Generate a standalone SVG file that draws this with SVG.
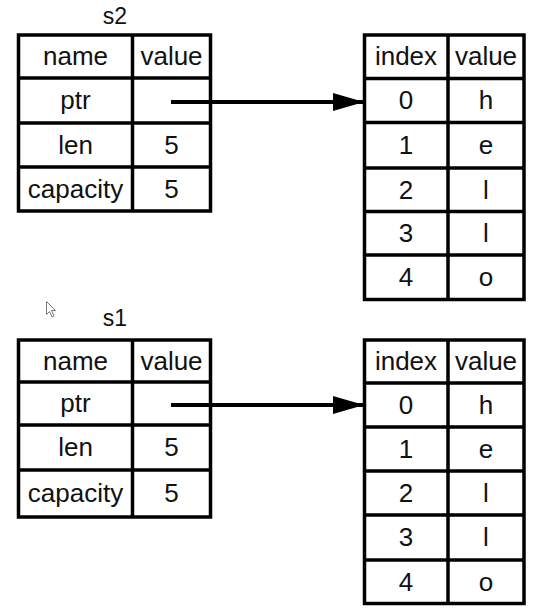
<svg xmlns="http://www.w3.org/2000/svg" width="533" height="612" viewBox="0 0 533 612">
<style>
.b{fill:#fff;stroke:#000;stroke-width:3.5}
.l{stroke:#000;stroke-width:3.5;fill:none}
.t{font-family:"Liberation Sans",Arial,sans-serif;font-size:26px;fill:#111;text-anchor:middle}
.h{font-family:"Liberation Sans",Arial,sans-serif;font-size:23px;fill:#111;text-anchor:middle}
.c{stroke:#000;stroke-width:4;fill:none}
</style>
<defs>
<marker id="ah" markerUnits="userSpaceOnUse" markerWidth="32" markerHeight="18" refX="31" refY="9" orient="auto">
<path d="M0,0 L31,9 L0,18 Z" fill="#000"/>
</marker>
</defs>
<rect width="533" height="612" fill="#fff"/>

<g id="s2">
<text class="h" x="115" y="24">s2</text>
<rect class="b" x="18.5" y="35" width="192" height="176"/>
<path class="l" d="M132.5,35V211M18.5,78H210.5M18.5,123H210.5M18.5,167H210.5"/>
<text class="t" x="75.5" y="65">name</text>
<text class="t" x="171.5" y="65">value</text>
<text class="t" x="75.5" y="109">ptr</text>
<text class="t" x="75.5" y="154">len</text>
<text class="t" x="171.5" y="154">5</text>
<text class="t" x="75.5" y="198">capacity</text>
<text class="t" x="171.5" y="198">5</text>
</g>

<g id="heap2">
<rect class="b" x="364.5" y="35" width="159.5" height="264.5"/>
<path class="l" d="M448,35V299.5M364.5,78.5H524M364.5,122.5H524M364.5,168H524M364.5,211.5H524M364.5,255H524"/>
<text class="t" x="406" y="65">index</text>
<text class="t" x="486" y="65">value</text>
<text class="t" x="406" y="109">0</text>
<text class="t" x="486" y="109">h</text>
<text class="t" x="406" y="154">1</text>
<text class="t" x="486" y="154">e</text>
<text class="t" x="406" y="199">2</text>
<text class="t" x="486" y="199">l</text>
<text class="t" x="406" y="242">3</text>
<text class="t" x="486" y="242">l</text>
<text class="t" x="406" y="286">4</text>
<text class="t" x="486" y="286">o</text>
</g>

<g id="s1">
<text class="h" x="115" y="326">s1</text>
<rect class="b" x="18.5" y="340" width="192" height="177"/>
<path class="l" d="M132.5,340V517M18.5,382H210.5M18.5,425H210.5M18.5,470H210.5"/>
<text class="t" x="75.5" y="370">name</text>
<text class="t" x="171.5" y="370">value</text>
<text class="t" x="75.5" y="412">ptr</text>
<text class="t" x="75.5" y="456">len</text>
<text class="t" x="171.5" y="456">5</text>
<text class="t" x="75.5" y="502">capacity</text>
<text class="t" x="171.5" y="502">5</text>
</g>

<g id="heap1">
<rect class="b" x="364.5" y="340" width="159.5" height="263.5"/>
<path class="l" d="M448,340V603.5M364.5,383H524M364.5,427H524M364.5,471H524M364.5,515H524M364.5,560H524"/>
<text class="t" x="406" y="370">index</text>
<text class="t" x="486" y="370">value</text>
<text class="t" x="406" y="414">0</text>
<text class="t" x="486" y="414">h</text>
<text class="t" x="406" y="458">1</text>
<text class="t" x="486" y="458">e</text>
<text class="t" x="406" y="502">2</text>
<text class="t" x="486" y="502">l</text>
<text class="t" x="406" y="546">3</text>
<text class="t" x="486" y="546">l</text>
<text class="t" x="406" y="591">4</text>
<text class="t" x="486" y="591">o</text>
</g>

<g id="connectors">
<line class="c" x1="171" y1="102" x2="364" y2="102" marker-end="url(#ah)"/>
<line class="c" x1="171" y1="405" x2="364" y2="405" marker-end="url(#ah)"/>
</g>

<path d="M46.5,301.5V314.5L49.5,311.5L52,317L54,316L51.5,310.5H55.5Z" fill="#fff" stroke="#777" stroke-width="1"/>
</svg>
